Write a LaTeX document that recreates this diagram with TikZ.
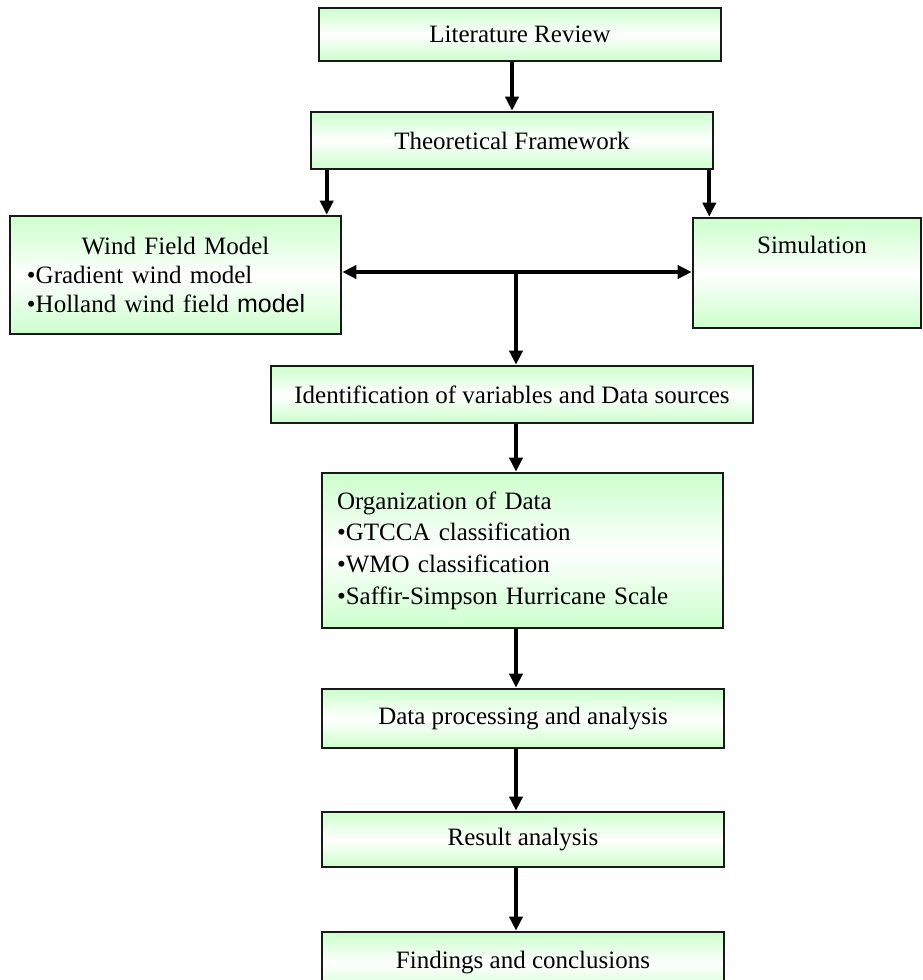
\documentclass[tikz,border=0pt]{standalone}
\usepackage{fontspec}
\setmainfont{Liberation Serif}
\newfontfamily\arialfont{Liberation Sans}
\usetikzlibrary{arrows.meta,calc}
\definecolor{boxgreen}{RGB}{204,255,204}
\definecolor{boxline}{RGB}{25,25,25}

\begin{document}
\begin{tikzpicture}[x=1pt,y=-1pt,
    every node/.style={font=\fontsize{25}{29}\selectfont},
    box/.style={draw=boxline,line width=2.6pt,top color=boxgreen,bottom color=boxgreen,middle color=white,inner sep=0pt},
    arr/.style={-{Triangle[length=14pt,width=13pt]},line width=4pt},
    dblarr/.style={{Triangle[length=14pt,width=13pt]}-{Triangle[length=14pt,width=13pt]},line width=4pt}]
    \useasboundingbox (0,0) rectangle (922,980);
    % boxes
    \node[box,minimum width=402,minimum height=53] (lit) at (520,34.5) {Literature Review};
    \node[box,minimum width=402,minimum height=57] (theo) at (512,140.5) {Theoretical Framework};
    \node[box,minimum width=331,minimum height=118,text width=297,align=left] (wind) at (175.5,275)
      {\makebox[297pt]{Wind Field Model}\\
       •Gradient wind model\\
       •Holland wind field {\arialfont model}};
    \node[box,minimum width=228,minimum height=110] (sim) at (807,273) {};
    \node (simtxt) at (812,245) {Simulation};
    \node[box,minimum width=482,minimum height=57] (ident) at (512,394.5) {Identification of variables and Data sources};
    \node[box,minimum width=401,minimum height=155,text width=371,align=left,font=\fontsize{25}{31.7}\selectfont] (org) at (522.5,550.5)
      {Organization of Data\\
       •GTCCA classification\\
       •WMO classification\\
       •Saffir-Simpson Hurricane Scale};
    \node[box,minimum width=402,minimum height=59] (proc) at (523,718.5) {Data processing and analysis};
    \node[box,minimum width=402,minimum height=55] (res) at (523,839.5) {Result analysis};
    \node[box,minimum width=402,minimum height=62] (find) at (523,963) {Findings and conclusions};
    % connectors
    \coordinate (hub) at (516,272);
    \coordinate (tl) at ([xshift=17pt]theo.south west);
    \coordinate (tr) at ([xshift=-5pt]theo.south east);
    \draw[arr] (theo.north |- lit.south) -- (theo.north);
    \draw[arr] (tl) -- (tl |- wind.north);
    \draw[arr] (tr) -- (tr |- sim.north);
    \draw[dblarr] (wind.east |- hub) -- (sim.west |- hub);
    \draw[arr] (hub) -- (hub |- ident.north);
    \draw[arr] (hub |- ident.south) -- (hub |- org.north);
    \draw[arr] (hub |- org.south) -- (hub |- proc.north);
    \draw[arr] (hub |- proc.south) -- (hub |- res.north);
    \draw[arr] (hub |- res.south) -- (hub |- find.north);
\end{tikzpicture}
\end{document}
